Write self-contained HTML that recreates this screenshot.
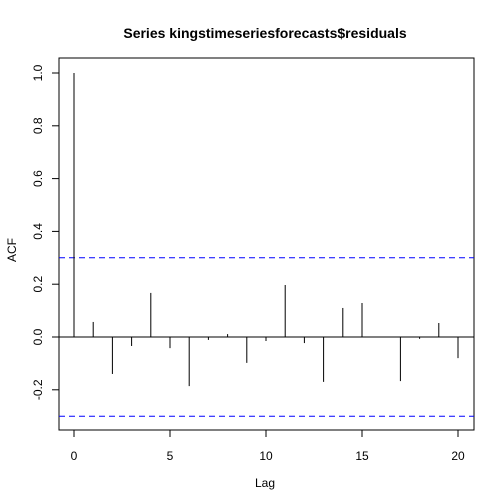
<!DOCTYPE html>
<html><head><meta charset="utf-8"><style>
html,body{margin:0;padding:0;background:#fff}
svg{display:block;font-family:"Liberation Sans",Arial,sans-serif}
</style></head><body>
<svg id="chart" width="504" height="504" viewBox="0 0 504 504">
<rect x="0" y="0" width="504" height="504" fill="#fff"/>
<text x="265" y="38" text-anchor="middle" font-size="14" font-weight="bold">Series  kingstimeseriesforecasts$residuals</text>
<rect x="59" y="58" width="415" height="372" fill="none" stroke="#000" stroke-width="1"/>
<text x="265" y="487" text-anchor="middle" font-size="12">Lag</text>
<text x="16" y="250" text-anchor="middle" font-size="12" transform="rotate(-90 16 250)">ACF</text>
<g id="axes"></g>
<g id="marks"></g>
</svg>
<script>
const lags = [0,1,2,3,4,5,6,7,8,9,10,11,12,13,14,15,16,17,18,19,20];
const acfValues = [1.0,0.057,-0.14,-0.034,0.167,-0.042,-0.186,-0.011,0.011,-0.098,-0.015,0.197,-0.023,-0.17,0.11,0.129,0,-0.167,-0.007,0.053,-0.08];
const xTicks = [0,5,10,15,20];
const yTicks = [-0.2,0,0.2,0.4,0.6,0.8,1.0];
const yTickLabels = ["-0.2","0.0","0.2","0.4","0.6","0.8","1.0"];
const ciBounds = [0.30,-0.30];

const NS="http://www.w3.org/2000/svg";
const X = v => 74 + v*19.2;
const Y = v => 337 - v*264;
function mk(tag, attrs, parent){const e=document.createElementNS(NS,tag);for(const k in attrs)e.setAttribute(k,attrs[k]);parent.appendChild(e);return e;}
const axes=document.getElementById('axes'), marks=document.getElementById('marks');

xTicks.forEach(t=>{
  const l=mk('line',{x1:X(t),x2:X(t),y1:430,y2:437,stroke:'#000'},axes);
  
  
  const tx=mk('text',{x:X(t),y:460,'text-anchor':'middle','font-size':12},axes);
  tx.textContent=t;
  
  
});
mk('line',{x1:X(0),x2:X(20),y1:430,y2:430,stroke:'#000'},axes);
yTicks.forEach((t,i)=>{
  const l=mk('line',{x1:52,x2:59,y1:Y(t),y2:Y(t),stroke:'#000'},axes);
  
  
  const tx=mk('text',{x:42,y:Y(t),'text-anchor':'middle','font-size':12,transform:`rotate(-90 42 ${Y(t)})`},axes);
  tx.textContent=yTickLabels[i];
  
  
});
mk('line',{x1:59,x2:59,y1:Y(-0.2),y2:Y(1.0),stroke:'#000'},axes);

const zero=mk('line',{x1:59,x2:474,y1:Y(0),y2:Y(0),stroke:'#000'},marks);


ciBounds.forEach(b=>{
  const l=mk('line',{x1:59,x2:474,y1:Y(b),y2:Y(b),stroke:'#0000ff','stroke-dasharray':'6,4'},marks);
  
  
});
lags.forEach((lag,i)=>{
  const l=mk('line',{x1:X(lag),x2:X(lag),y1:Y(0),y2:Y(acfValues[i]),stroke:'#000'},marks);
  
  
});
</script>
</body></html>
